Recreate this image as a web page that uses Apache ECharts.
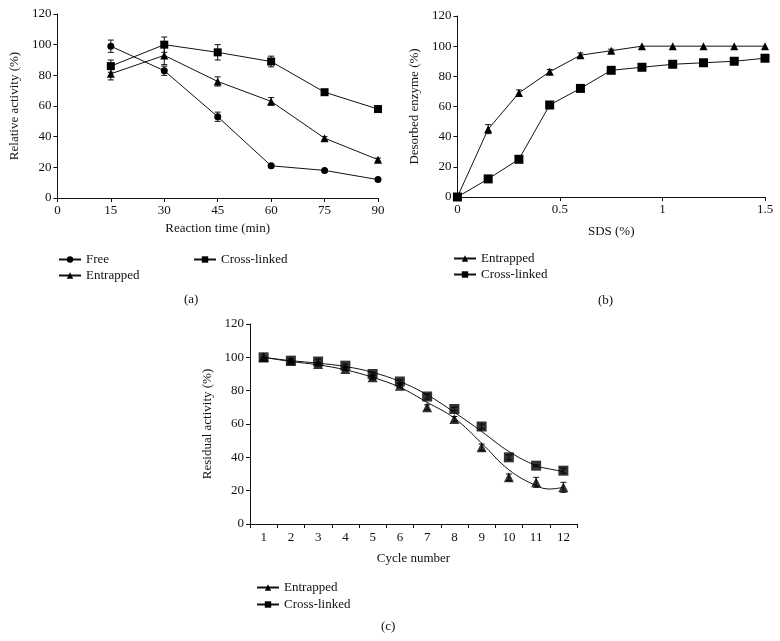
<!DOCTYPE html>
<html>
<head>
<meta charset="utf-8">
<script src="https://cdn.jsdelivr.net/npm/echarts@6/dist/echarts.min.js"></script>
<style>
  html, body { margin: 0; padding: 0; background: #fff; }
  #wrap { position: relative; width: 780px; height: 641px; }
  .pane { position: absolute; }
</style>
</head>
<body>
<div id="wrap">
  <div id="ca" class="pane" style="left:0;top:0;width:400px;height:310px"></div>
  <div id="cb" class="pane" style="left:400px;top:0;width:380px;height:310px"></div>
  <div id="cc" class="pane" style="left:190px;top:310px;width:450px;height:331px"></div>
</div>
<script>
// (a) relative activity vs reaction time
var timeMin = [15, 30, 45, 60, 75, 90];
var freeAct = [99, 83, 53, 21, 18, 12];
var freeErr = [4, 3, 3, 1, 0, 0];
var entrAct = [81, 93, 76, 63, 39, 25];
var entrErr = [4, 6, 3, 2.5, 1, 1];
var crossAct = [86, 100, 95, 89, 69, 58];
var crossErr = [4, 5, 5, 3.5, 1.5, 1];

// (b) desorbed enzyme vs SDS
var sdsPct = [0, 0.15, 0.3, 0.45, 0.6, 0.75, 0.9, 1.05, 1.2, 1.35, 1.5];
var entrDes = [0, 45, 69, 83, 94, 97, 100, 100, 100, 100, 100];
var entrDesErr = [0, 3, 2, 1.5, 1.5, 1, 0, 0, 0, 0, 0];
var crossDes = [0, 12, 25, 61, 72, 84, 86, 88, 89, 90, 92];
var crossDesErr = [0, 1, 2, 2, 1, 1, 0, 0, 0, 0, 0];

// (c) residual activity vs cycle number
var cycleLabels = ['1', '2', '3', '4', '5', '6', '7', '8', '9', '10', '11', '12'];
var cycles = [1, 2, 3, 4, 5, 6, 7, 8, 9, 10, 11, 12];
var entrRes = [100, 98, 96, 93, 88, 83, 70, 63, 46, 28, 25, 22];
var entrResErr = [0, 1, 1, 1, 1.5, 1, 1.5, 1.5, 2, 2, 3, 3];
var crossRes = [100, 98, 97.5, 95, 90, 85.5, 76.5, 69, 58.5, 40, 35, 32];
var crossResErr = [0, 1, 1.5, 1, 1, 1, 1.5, 1, 1.5, 1.5, 0.5, 1.5];
// fitted curves
var fitX = [1, 2, 3, 4, 5, 6, 7, 8, 9, 10, 11, 11.5, 12];
var entrFit = [100, 97.5, 95.5, 92.5, 88, 82, 73, 63.5, 48.5, 32.5, 23, 21, 22];
var crossFit = [100, 98, 96.5, 94.5, 91, 85.5, 77.5, 67, 55.5, 43.5, 35, 33, 31.5];

var FONT = 'Liberation Serif';
var INK = '#111';

function pairs(xs, ys) {
  return xs.map(function (x, i) { return [x, ys[i]]; });
}

function errData(xs, ys, errs) {
  var out = [];
  for (var i = 0; i < xs.length; i++) {
    if (errs[i] > 0) out.push([xs[i], ys[i] - errs[i], ys[i] + errs[i]]);
  }
  return out;
}

function renderErr(params, api) {
  var x = api.value(0);
  var lo = api.coord([x, api.value(1)]);
  var hi = api.coord([x, api.value(2)]);
  var w = 3;
  var st = { stroke: INK, lineWidth: 1 };
  return {
    type: 'group',
    children: [
      { type: 'line', shape: { x1: lo[0], y1: lo[1], x2: hi[0], y2: hi[1] }, style: st },
      { type: 'line', shape: { x1: lo[0] - w, y1: lo[1], x2: lo[0] + w, y2: lo[1] }, style: st },
      { type: 'line', shape: { x1: hi[0] - w, y1: hi[1], x2: hi[0] + w, y2: hi[1] }, style: st }
    ]
  };
}

function errSeries(data, xIdx) {
  return {
    type: 'custom',
    xAxisIndex: xIdx || 0,
    renderItem: renderErr,
    data: data,
    silent: true,
    z: 1
  };
}

function lineSeries(name, data, symbol, size) {
  return {
    name: name,
    type: 'line',
    data: data,
    symbol: symbol,
    symbolSize: size,
    showAllSymbol: true,
    lineStyle: { color: INK, width: 1 },
    itemStyle: { color: '#000' },
    z: 3
  };
}

function valAxis(min, max, step) {
  return {
    type: 'value',
    min: min,
    max: max,
    interval: step,
    splitLine: { show: false },
    axisLine: { show: true, lineStyle: { color: INK, width: 1 } },
    axisTick: { show: true, length: 4, lineStyle: { color: INK } },
    axisLabel: { color: INK, fontFamily: FONT, fontSize: 13, margin: 6 }
  };
}

function axisName(ax, name, gap) {
  ax.name = name;
  ax.nameLocation = 'middle';
  ax.nameGap = gap;
  ax.nameTextStyle = { color: INK, fontFamily: FONT, fontSize: 13 };
  return ax;
}

function legendAt(names, left, top, gap) {
  return {
    data: names,
    orient: 'vertical',
    left: left,
    top: top,
    itemWidth: 22,
    itemHeight: 8,
    itemGap: gap,
    selectedMode: false,
    textStyle: { color: INK, fontFamily: FONT, fontSize: 13 }
  };
}

function panelTag(txt, x, y) {
  return {
    type: 'text',
    left: x,
    top: y,
    style: { text: txt, font: '13px "' + FONT + '"', fill: INK }
  };
}

// ---------- (a)
var chartA = echarts.init(document.getElementById('ca'));
chartA.setOption({
  animation: false,
  grid: { left: 53, top: 14, width: 325, height: 184 },
  xAxis: axisName(valAxis(0, 90, 15), 'Reaction time (min)', 24),
  yAxis: axisName(valAxis(0, 120, 20), 'Relative activity (%)', 30),
  legend: [
    legendAt(['Free', 'Entrapped'], 53, 248, 3),
    legendAt(['Cross-linked'], 188, 248, 3)
  ],
  graphic: [panelTag('(a)', 184, 293)],
  series: [
    lineSeries('Free', pairs(timeMin, freeAct), 'circle', 7),
    lineSeries('Entrapped', pairs(timeMin, entrAct), 'triangle', 8),
    lineSeries('Cross-linked', pairs(timeMin, crossAct), 'rect', 8),
    errSeries(errData(timeMin, freeAct, freeErr)),
    errSeries(errData(timeMin, entrAct, entrErr)),
    errSeries(errData(timeMin, crossAct, crossErr))
  ]
});

// ---------- (b)
var chartB = echarts.init(document.getElementById('cb'));
chartB.setOption({
  animation: false,
  grid: { left: 48, top: 16, width: 317, height: 181 },
  xAxis: axisName(valAxis(0, 1.5, 0.5), 'SDS (%)', 28),
  yAxis: axisName(valAxis(0, 120, 20), 'Desorbed enzyme (%)', 29),
  legend: [legendAt(['Entrapped', 'Cross-linked'], 48, 247, 3)],
  graphic: [panelTag('(b)', 198, 294)],
  series: [
    lineSeries('Entrapped', pairs(sdsPct, entrDes), 'triangle', 8),
    lineSeries('Cross-linked', pairs(sdsPct, crossDes), 'rect', 9),
    errSeries(errData(sdsPct, entrDes, entrDesErr)),
    errSeries(errData(sdsPct, crossDes, crossDesErr))
  ]
});

// ---------- (c)
var chartC = echarts.init(document.getElementById('cc'));
var catAxis = axisName({
  type: 'category',
  data: cycleLabels,
  boundaryGap: true,
  axisLine: { show: true, lineStyle: { color: INK, width: 1 } },
  axisTick: { show: true, length: 4, lineStyle: { color: INK } },
  axisLabel: { color: INK, fontFamily: FONT, fontSize: 13, margin: 7 }
}, 'Cycle number', 28);
chartC.setOption({
  animation: false,
  grid: { left: 60, top: 14, width: 327, height: 200 },
  xAxis: [
    catAxis,
    { type: 'value', min: 0.5, max: 12.5, show: false }
  ],
  yAxis: axisName(valAxis(0, 120, 20), 'Residual activity (%)', 31),
  legend: [legendAt(['Entrapped', 'Cross-linked'], 61, 266, 4)],
  graphic: [panelTag('(c)', 191, 310)],
  series: [
    {
      name: 'Entrapped', type: 'line', xAxisIndex: 1, smooth: 0.4,
      data: pairs(fitX, entrFit), symbol: 'triangle', symbolSize: 10, showSymbol: false,
      lineStyle: { color: INK, width: 1 }, itemStyle: { color: '#000' }, z: 2
    },
    {
      name: 'Cross-linked', type: 'line', xAxisIndex: 1, smooth: 0.4,
      data: pairs(fitX, crossFit), symbol: 'rect', symbolSize: 10, showSymbol: false,
      lineStyle: { color: INK, width: 1 }, itemStyle: { color: '#000' }, z: 2
    },
    {
      name: 'Entrapped', type: 'scatter', xAxisIndex: 1,
      data: pairs(cycles, entrRes), symbol: 'triangle', symbolSize: 10,
      itemStyle: { color: '#000' }, z: 3
    },
    {
      name: 'Cross-linked', type: 'scatter', xAxisIndex: 1,
      data: pairs(cycles, crossRes), symbol: 'rect', symbolSize: 10,
      itemStyle: { color: '#000' }, z: 3
    },
    errSeries(errData(cycles, entrRes, entrResErr), 1),
    errSeries(errData(cycles, crossRes, crossResErr), 1)
  ]
});
</script>
</body>
</html>
